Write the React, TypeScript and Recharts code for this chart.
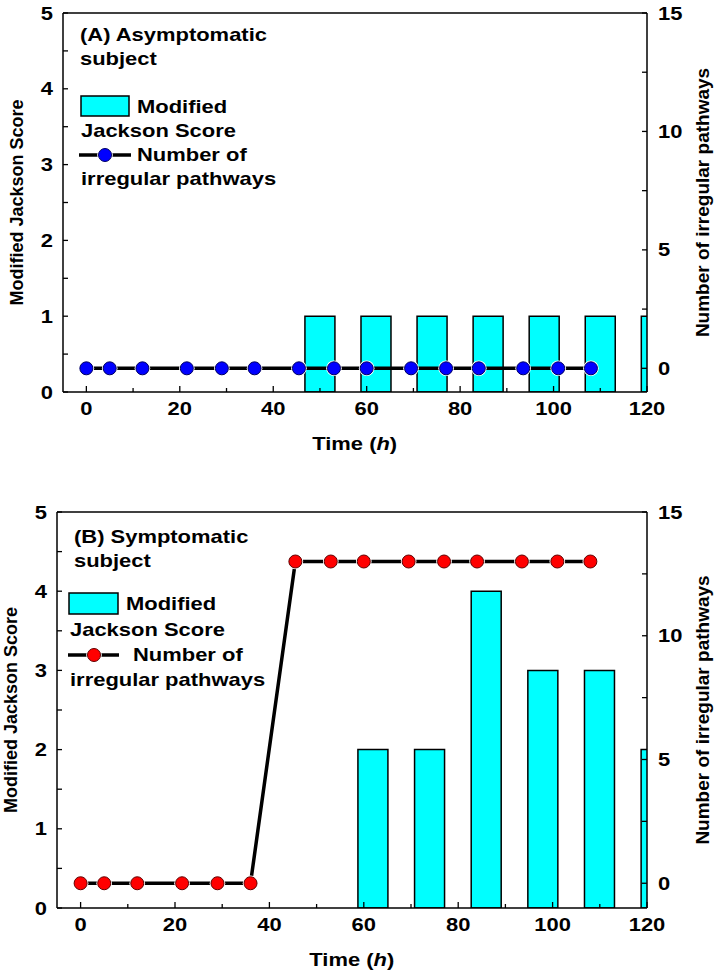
import React from 'react';
import { ComposedChart, Bar, Line, XAxis, YAxis, ReferenceLine, Legend } from 'recharts';

// ---- data ----
const timeTicks = [0, 10, 20, 30, 40, 50, 60, 70, 80, 90, 100, 110, 120];
const scoreTicks = [0, 0.5, 1, 1.5, 2, 2.5, 3, 3.5, 4, 4.5, 5];
const pathTicks = [0, 2.5, 5, 7.5, 10, 12.5, 15];

const scoreTimesA = [50, 62, 74, 86, 98, 110, 122];
const scoreValuesA = [1, 1, 1, 1, 1, 1, 1];
const scoreTimesB = [62, 74, 86, 98, 110, 122];
const scoreValuesB = [2, 2, 4, 3, 3, 2];
const pathTimes = [0, 5, 12, 21.5, 29, 36, 45.5, 53, 60, 69.5, 77, 84, 93.5, 101, 108];
const pathValuesA = [0, 0, 0, 0, 0, 0, 0, 0, 0, 0, 0, 0, 0, 0, 0];
const pathValuesB = [0, 0, 0, 0, 0, 0, 13, 13, 13, 13, 13, 13, 13, 13, 13];

const barDataA = scoreTimesA.map((t, i) => ({ t, score: scoreValuesA[i] }));
const barDataB = scoreTimesB.map((t, i) => ({ t, score: scoreValuesB[i] }));
const lineDataA = pathTimes.map((t, i) => ({ t, paths: pathValuesA[i] }));
const lineDataB = pathTimes.map((t, i) => ({ t, paths: pathValuesB[i] }));

const FONT = "'Liberation Sans', Arial, Helvetica, sans-serif";
const SX = 1.22;

const STxt = ({ x, y, anchor = 'start', size = 18, children }: any) => (
  <g transform={`translate(${x},${y}) scale(${SX},1)`}>
    <text x={0} y={0} textAnchor={anchor} fontFamily={FONT} fontWeight="bold" fontSize={size} fill="#000">
      {children}
    </text>
  </g>
);

const XTick = (props: any) => {
  const { x, y, payload } = props;
  const v = payload.value;
  const major = v % 20 === 0;
  return (
    <g>
      <line x1={x} x2={x} y1={y} y2={y - (major ? 6 : 4)} stroke="#000" strokeWidth={1.3} />
      {major && <STxt x={x} y={y + 23} anchor="middle">{String(v)}</STxt>}
      {v === 60 && (
        <g transform={`translate(${x - 12},${y + 57.5}) scale(${SX},1)`}>
          <text x={0} y={0} textAnchor="middle" fontFamily={FONT} fontWeight="bold" fontSize={18} fill="#000">
            Time (<tspan fontStyle="italic">h</tspan>)
          </text>
        </g>
      )}
    </g>
  );
};

const LTick = (props: any) => {
  const { x, y, payload } = props;
  const v = payload.value;
  const major = Number.isInteger(v);
  return (
    <g>
      <line x1={x} x2={x + 5} y1={y} y2={y} stroke="#000" strokeWidth={1.3} />
      {major && <STxt x={x - 10} y={y + 6.5} anchor="end">{String(v)}</STxt>}
    </g>
  );
};

const RTick = (props: any) => {
  const { x, y, payload } = props;
  const v = payload.value;
  const major = v % 5 === 0;
  return (
    <g>
      <line x1={x} x2={x - 5} y1={y} y2={y} stroke="#000" strokeWidth={1.3} />
      {major && <STxt x={x + 11} y={y + 6.5} anchor="start">{String(v)}</STxt>}
    </g>
  );
};

const LeftTitle = (props: any) => {
  const vb = props.viewBox || {};
  const cx = vb.x + vb.width - 47;
  const cy = vb.y + vb.height / 2;
  return (
    <g transform={`translate(${cx},${cy}) rotate(-90)`}>
      <text x={0} y={6.5} textAnchor="middle" fontFamily={FONT} fontWeight="bold" fontSize={18} fill="#000">
        Modified Jackson Score
      </text>
    </g>
  );
};

const RightTitle = (props: any) => {
  const vb = props.viewBox || {};
  const cx = vb.x + 55;
  const cy = vb.y + vb.height / 2;
  return (
    <g transform={`translate(${cx},${cy}) rotate(-90)`}>
      <text x={0} y={6.5} textAnchor="middle" fontFamily={FONT} fontWeight="bold" fontSize={19} fill="#000">
        Number of irregular pathways
      </text>
    </g>
  );
};

const makeDot = (fill: string, stroke: string) => (props: any) => {
  const { cx, cy, index } = props;
  if (cx == null || cy == null) return <g key={`d${index}`} />;
  return (
    <g key={`d${index}`}>
      <circle cx={cx} cy={cy} r={7.8} fill="#fff" />
      <circle cx={cx} cy={cy} r={6.5} fill={fill} stroke={stroke} strokeWidth={1} />
    </g>
  );
};

const LegendArt = ({ l, fill, stroke }: any) => (
  <svg width={360} height={230} style={{ display: 'block', overflow: 'visible' }}>
    <STxt x={l.tx} y={l.t1}>{l.title1}</STxt>
    <STxt x={l.tx} y={l.t2}>subject</STxt>
    <rect x={l.rx} y={l.ry} width={l.rw} height={l.rh} fill="#00FFFF" stroke="#000" strokeWidth={1.5} />
    <STxt x={l.modX} y={l.modY}>Modified</STxt>
    <STxt x={l.jx} y={l.jY}>Jackson Score</STxt>
    <line x1={l.lx1} x2={l.lx2} y1={l.ly} y2={l.ly} stroke="#000" strokeWidth={3.5} />
    <circle cx={l.dx} cy={l.ly} r={7.8} fill="#fff" />
    <circle cx={l.dx} cy={l.ly} r={6.5} fill={fill} stroke={stroke} strokeWidth={1} />
    <STxt x={l.numX} y={l.numY}>Number of</STxt>
    <STxt x={l.jx} y={l.irY}>irregular pathways</STxt>
  </svg>
);

const legendA = {
  title1: '(A) Asymptomatic', tx: 80, t1: 41, t2: 65,
  rx: 81, ry: 96, rw: 48, rh: 20, modX: 137, modY: 113,
  jx: 81, jY: 137, lx1: 79, lx2: 131, ly: 155, dx: 105, numX: 137, numY: 161, irY: 185,
};
const legendB = {
  title1: '(B) Symptomatic', tx: 74, t1: 73, t2: 97,
  rx: 69, ry: 123, rw: 49, rh: 21, modX: 126, modY: 140,
  jx: 70, jY: 166, lx1: 68, lx2: 119, ly: 185, dx: 94, numX: 133, numY: 191, irY: 216,
};

const Panel = ({ top, height, marginTop, leftW, rightW, xH, barData, lineData, fill, stroke, legend }: any) => (
  <div style={{ position: 'absolute', left: 0, top }}>
    <ComposedChart width={717} height={height} data={barData} margin={{ top: marginTop, right: 0, bottom: 0, left: 0 }}>
      <XAxis
        xAxisId="main"
        dataKey="t"
        type="number"
        domain={[-5, 120]}
        allowDataOverflow
        ticks={timeTicks}
        interval={0}
        height={xH}
        tickSize={0}
        tickMargin={0}
        tickLine={false}
        tick={<XTick />}
        axisLine={{ stroke: '#000', strokeWidth: 1.5 }}
      />
      <XAxis
        xAxisId="line"
        orientation="top"
        dataKey="t"
        type="number"
        domain={[-5, 120]}
        allowDataOverflow
        height={0}
        hide
      />
      <YAxis
        yAxisId="left"
        orientation="left"
        type="number"
        domain={[0, 5]}
        allowDataOverflow
        ticks={scoreTicks}
        interval={0}
        width={leftW}
        tickSize={0}
        tickMargin={0}
        tickLine={false}
        tick={<LTick />}
        axisLine={{ stroke: '#000', strokeWidth: 1.5 }}
        label={<LeftTitle />}
      />
      <YAxis
        yAxisId="right"
        orientation="right"
        type="number"
        domain={[-1, 15]}
        allowDataOverflow
        ticks={pathTicks}
        interval={0}
        width={rightW}
        tickSize={0}
        tickMargin={0}
        tickLine={false}
        tick={<RTick />}
        axisLine={{ stroke: '#000', strokeWidth: 1.5 }}
        label={<RightTitle />}
      />
      <ReferenceLine xAxisId="main" yAxisId="left" y={5} stroke="#000" strokeWidth={1.5} />
      <Bar
        xAxisId="main"
        yAxisId="left"
        dataKey="score"
        barSize={30}
        fill="#00FFFF"
        stroke="#000"
        strokeWidth={1.5}
        isAnimationActive={false}
      />
      <Line
        xAxisId="line"
        yAxisId="right"
        data={lineData}
        dataKey="paths"
        stroke="#000"
        strokeWidth={3.5}
        dot={makeDot(fill, stroke)}
        activeDot={false}
        isAnimationActive={false}
      />
      <Legend
        layout="horizontal"
        verticalAlign="middle"
        align="center"
        wrapperStyle={{ left: 0, top: 0, width: 360 }}
        content={() => <LegendArt l={legend} fill={fill} stroke={stroke} />}
      />
    </ComposedChart>
  </div>
);

export default function App() {
  return (
    <div style={{ position: 'absolute', left: 0, top: 0, width: 717, height: 975, background: '#fff' }}>
      <Panel
        top={0}
        height={460}
        marginTop={13}
        leftW={63}
        rightW={70}
        xH={68}
        barData={barDataA}
        lineData={lineDataA}
        fill="#0000FF"
        stroke="#000060"
        legend={legendA}
      />
      <Panel
        top={470}
        height={505}
        marginTop={42}
        leftW={57}
        rightW={70}
        xH={67}
        barData={barDataB}
        lineData={lineDataB}
        fill="#FF0000"
        stroke="#600000"
        legend={legendB}
      />
    </div>
  );
}
